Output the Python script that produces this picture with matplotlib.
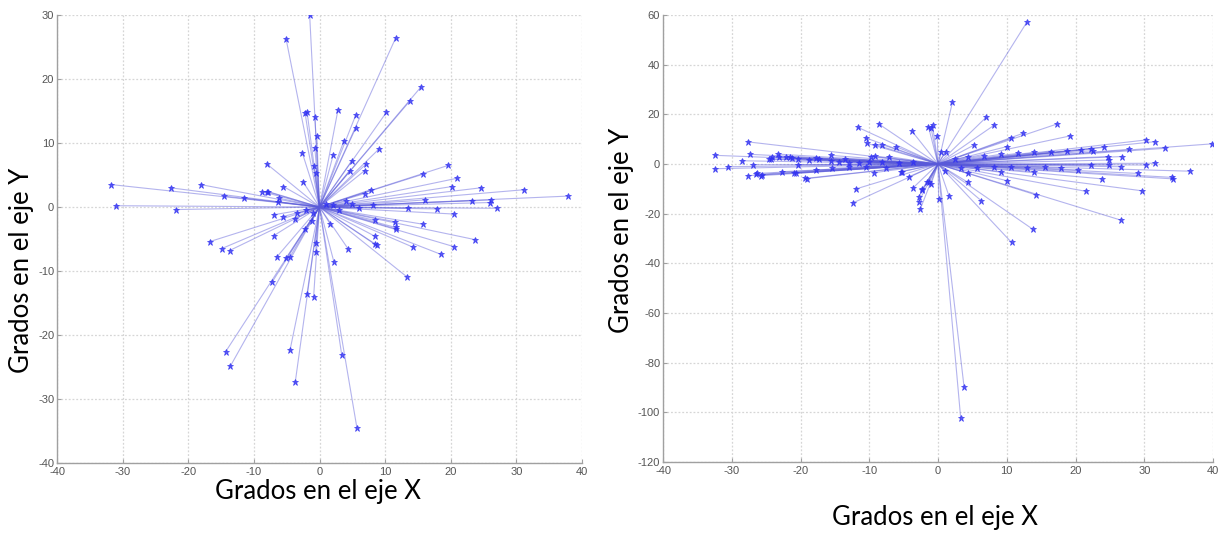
import matplotlib
matplotlib.use("Agg")
import matplotlib.pyplot as plt

# ---- Left panel data (endpoint coordinates, degrees) ----
left_x = [-1.5, -5.1, -31.7, -31.0, -22.7, -21.9, -18.1, -14.5, -11.5, -8.0,
          -8.7, -8.0, -7.8, -6.2, -6.3, -5.5, -2.5, -2.6, -2.2, -1.9,
          -0.7, -0.4, -0.7, -0.8, -0.5, 2.1, 2.8, -6.9, -5.6, -3.8,
          1.6, -7.0, -16.7, -14.9, -13.7, -6.5, -5.1, -4.5, -7.2, -1.9,
          -0.9, -14.3, -13.6, -4.5, -3.7, 2.2, -0.6, -0.6, -2.2, 3.4,
          5.7, 4.4, 8.5, 8.4, 8.8, 11.6, 13.3, 14.3, 18.5, 20.5,
          23.7, 11.6, 15.5, 13.8, 10.2, 5.5, 5.5, 3.7, 9.1, 4.9,
          7.1, 6.9, 4.6, 19.6, 15.7, 21.0, 20.2, 24.6, 31.2, 37.8,
          7.8, 6.9, 16.0, 23.2, 26.2, 26.0, 27.0, 20.5, 17.9, 13.5,
          8.2, 8.4, 11.5, 11.6, 15.8, 1.0, 2.0, 3.0, -1.0, -2.0,
          4.0, 5.0, 6.0, -3.5, -1.2]
left_y = [30.0, 26.3, 3.5, 0.2, 3.0, -0.4, 3.5, 1.7, 1.4, 6.7,
          2.4, 2.4, 2.4, 1.4, 0.8, 3.2, 3.9, 8.4, 14.7, 14.9,
          14.1, 11.1, 9.2, 6.4, 5.3, 8.2, 15.1, -1.2, -1.5, -1.9,
          -2.6, -4.5, -5.4, -6.5, -6.8, -7.8, -8.0, -7.8, -11.7, -13.6,
          -14.1, -22.6, -24.9, -22.4, -27.4, -8.6, -5.7, -7.1, -3.4, -23.2,
          -34.5, -6.6, -4.6, -5.8, -6.0, -3.4, -10.9, -6.3, -7.4, -6.2,
          -5.1, 26.4, 18.8, 16.6, 14.8, 14.3, 12.3, 10.3, 9.1, 7.2,
          6.7, 5.7, 5.7, 6.5, 5.1, 4.5, 3.2, 3.0, 2.7, 1.7,
          2.7, 2.1, 1.1, 1.0, 1.1, 0.7, -0.2, -1.1, -0.3, -0.2,
          0.3, -2.1, -2.3, -3.2, -2.7, 0.5, 0.3, -0.5, -1.0, -0.5,
          1.0, 0.5, -0.2, -1.0, -2.2]

# ---- Right panel data ----
right_x = [-32.5, -32.5, -27.6, -27.3, -28.5, -30.6, -26.9, -27.7, -25.7, -26.5,
           -24.3, -23.3, -23.2, -21.5, -20.4, -20.9, -19.1, -17.8, -15.6, -13.6,
           -11.6, -8.6, -10.5, -10.3, -9.1, -8.1, -6.1, -3.8, -1.4, -12.0,
           -12.4, -3.7, -2.3, -2.8, -2.6, -1.6, -9.3, -5.3, -9.1, -7.2,
           -9.8, 12.9, 2.1, -0.8, -1.0, -0.1, 7.0, 8.2, 5.3, 1.1,
           10.6, 12.4, 10.0, 17.3, 19.2, 30.3, 31.6, 33.0, 39.8, 27.8,
           24.2, 22.5, 26.8, 24.9, 24.9, 31.6, 30.3, 26.6, 36.7, 34.1,
           34.2, 29.1, 23.9, 29.7, 21.5, 14.2, 26.6, 13.8, 10.0, 6.3,
           4.3, 1.6, 0.1, 10.7, 3.3, 3.8, -2.8, -2.3, -1.3,
           -24.6, -24.1, -22.1, -21.2, -20.3, -18.8, -17.3, -15.6, -14.4, -13.0,
           -11.5, -10.1, -8.1, -5.7, -3.7, -26.3, -25.6, -22.7, -20.7, -19.3,
           -17.8, -15.4, -13.0, -10.5, -7.6, -5.4, -4.2,
           4.3, 6.7, 9.1, 11.6, 14.0, 16.4, 18.8, 20.8, 22.3, 24.7,
           3.3, 5.7, 8.2, 10.6, 13.0, 15.5, 17.9, 20.3, 22.3, 9.1,
           14.0, 4.3, 0.5, 1.0, -1.0, 2.5]
right_y = [3.5, -1.9, 8.9, 3.9, 1.3, -1.1, -0.3, -4.7, -4.7, -4.2,
           2.1, 4.0, 2.7, 2.9, -0.3, -3.8, -5.9, 2.4, 3.5, 2.2,
           14.7, 16.1, 10.5, 8.3, 7.8, 7.8, 7.0, 13.3, 15.1, -10.1,
           -15.7, -9.8, -10.5, -15.2, -18.3, -7.1, -3.5, -3.1, 3.2, 3.0,
           3.0, 57.0, 24.9, 15.7, 14.4, 11.3, 18.8, 15.7, 7.7, 5.0,
           10.3, 12.4, 7.0, 16.1, 11.3, 9.7, 9.0, 6.3, 8.1, 5.9,
           6.7, 5.4, 3.0, 1.6, -0.4, 0.3, -0.4, -1.1, -2.9, -5.4,
           -6.0, -3.8, -6.0, -10.8, -11.0, -12.4, -22.6, -26.3, -6.7, -14.8,
           -7.3, -12.9, -14.2, -31.6, -102.3, -90.0, -13.2, -10.2, -7.3,
           1.9, 2.7, 2.7, 2.3, 1.9, 1.6, 1.9, 1.3, 0.9, 0.5,
           0.3, 0.9, 0.7, 0.3, 0.9, -3.8, -4.4, -3.1, -3.5, -5.8,
           -2.4, -1.7, -1.3, -1.1, -1.7, -3.1, -5.1,
           3.0, 3.4, 3.9, 4.3, 4.7, 5.0, 5.2, 5.6, 6.0, 3.0,
           -1.7, -1.5, -1.1, -1.3, -1.7, -1.1, -1.7, -2.4, -0.4, -3.1,
           -3.1, -3.8, 5.0, -3.0, -8.0, 2.0]

x_ticks = [-40, -30, -20, -10, 0, 10, 20, 30, 40]
left_y_ticks = [-40, -30, -20, -10, 0, 10, 20, 30]
right_y_ticks = [-120, -100, -80, -60, -40, -20, 0, 20, 40, 60]
xlabel_text = "Grados en el eje X"
ylabel_text = "Grados en el eje Y"

plt.rcParams['font.family'] = ['Liberation Sans', 'DejaVu Sans']
plt.rcParams['axes.unicode_minus'] = False

fig = plt.figure(figsize=(12.25, 5.33), dpi=100)
ax1 = fig.add_axes([57/1225, 1-463/533, (582-57)/1225, (463-15)/533])
ax2 = fig.add_axes([663/1225, 1-462/533, (1213-663)/1225, (462-15)/533])

line_col = (0.35, 0.35, 0.85)
mark_col = (0.2, 0.2, 0.95)


def draw(ax, xs, ys, yticks):
    for x, y in zip(xs, ys):
        ax.plot([0, x], [0, y], color=line_col, lw=0.8, alpha=0.45, zorder=2)
    ax.plot(xs, ys, linestyle='none', marker='*', ms=4.5, color=mark_col,
            markeredgewidth=0.6, alpha=0.8, zorder=3)
    ax.set_xlim(x_ticks[0], x_ticks[-1])
    ax.set_ylim(yticks[0], yticks[-1])
    ax.set_xticks(x_ticks)
    ax.set_yticks(yticks)
    ax.grid(True, color='#d6d6d6', linestyle=(0, (1.5, 1.5)), lw=0.9)
    for s in ['top', 'right']:
        ax.spines[s].set_visible(False)
    for s in ['left', 'bottom']:
        ax.spines[s].set_color('#a0a0a0')
        ax.spines[s].set_linewidth(1.0)
    ax.tick_params(direction='in', length=3, color='#a0a0a0',
                   labelsize=8, labelcolor='#555555', pad=2)
    ax.tick_params(axis='x', pad=3)
    ax.set_axisbelow(True)


draw(ax1, left_x, left_y, left_y_ticks)
draw(ax2, right_x, right_y, right_y_ticks)

lab_font = dict(family=['Lato', 'DejaVu Sans'], fontsize=18.5, color='black')
fig.text(318/1225, 1-491/533, xlabel_text, ha='center', va='center', **lab_font)
fig.text(22/1225, 1-270/533, ylabel_text, ha='center', va='center', rotation=90, **lab_font)
fig.text(935/1225, 1-518/533, xlabel_text, ha='center', va='center', **lab_font)
fig.text(622/1225, 1-230/533, ylabel_text, ha='center', va='center', rotation=90, **lab_font)

fig.savefig("out.png", dpi=100)
